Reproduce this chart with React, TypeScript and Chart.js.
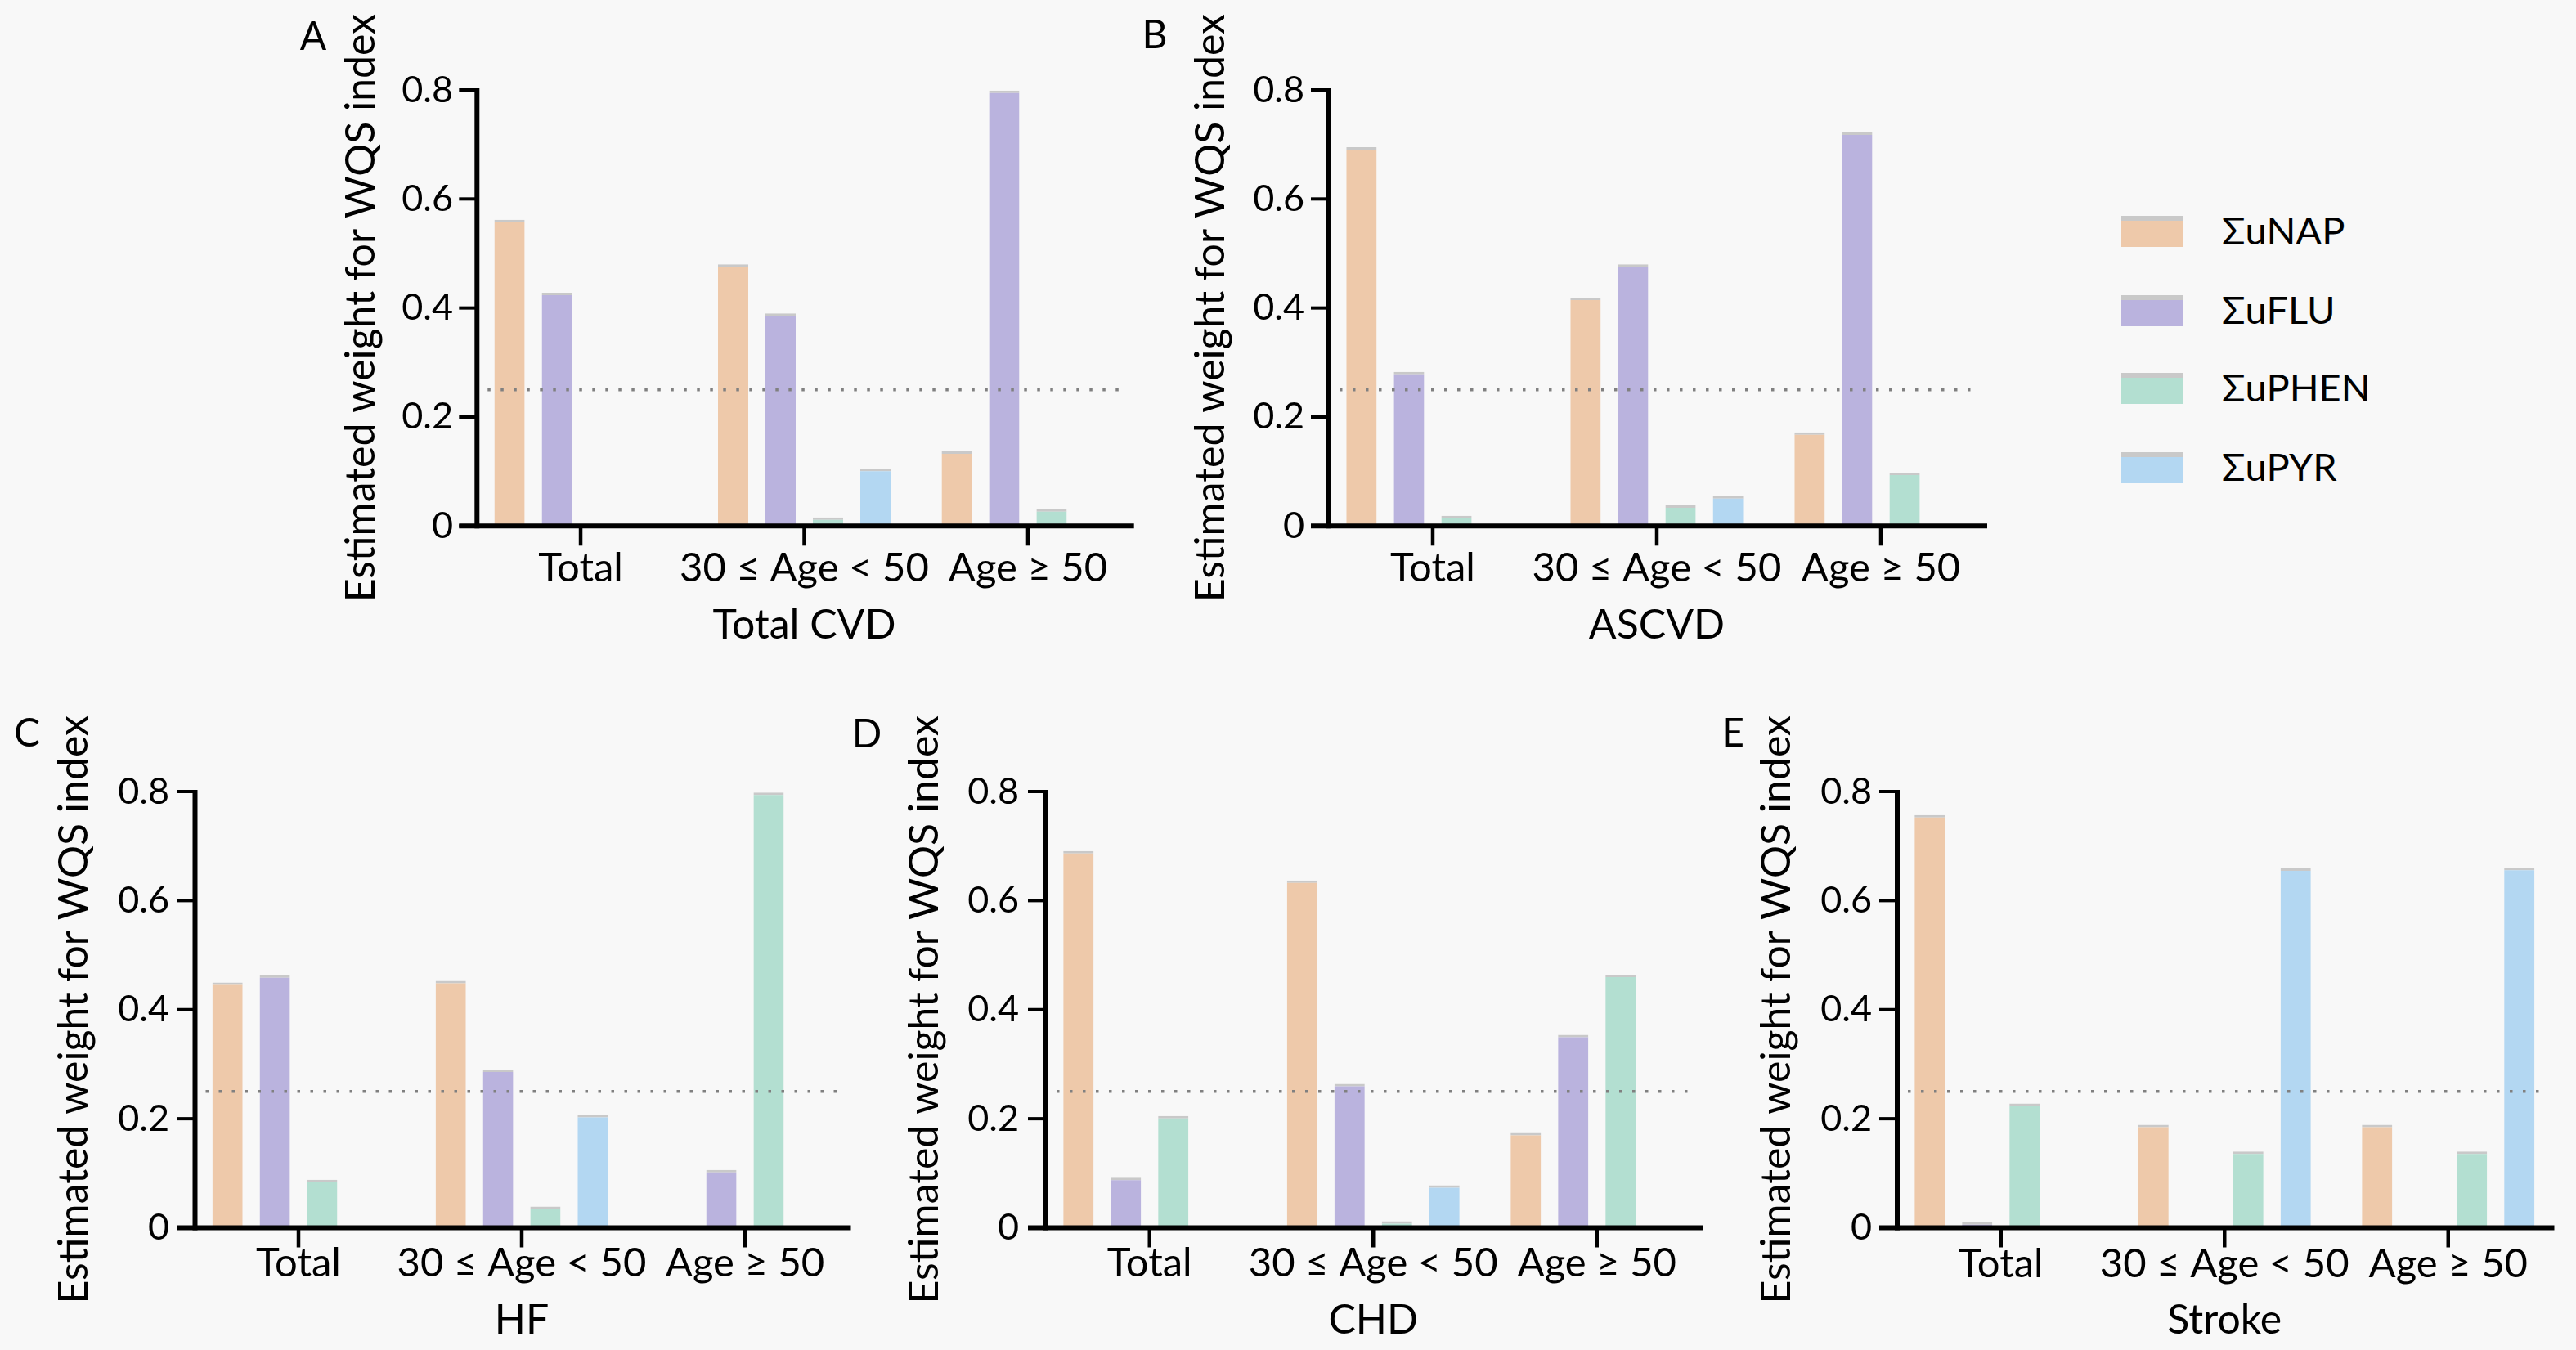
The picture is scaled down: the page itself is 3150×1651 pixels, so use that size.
import React, { useEffect, useRef } from 'react';
import { Chart, registerables } from 'chart.js';

Chart.register(...registerables);

// ---------- data ----------
const categories = ['Total', '30 ≤ Age < 50', 'Age ≥ 50'];
const seriesLabels = ['ΣuNAP', 'ΣuFLU', 'ΣuPHEN', 'ΣuPYR'];
const seriesColors = ['#EEC9AA', '#BAB3DE', '#B3DFD1', '#B3D7F2'];
const yTickValues = [0, 0.2, 0.4, 0.6, 0.8];
const thresholdValue = 0.25;
const yAxisTitle = 'Estimated weight for WQS index';

// A: Total CVD
const cvdNAP = [0.562, 0.48, 0.137];
const cvdFLU = [0.428, 0.39, 0.799];
const cvdPHEN = [0.003, 0.016, 0.031];
const cvdPYR = [0.003, 0.105, 0];

// B: ASCVD
const ascvdNAP = [0.695, 0.419, 0.172];
const ascvdFLU = [0.283, 0.48, 0.722];
const ascvdPHEN = [0.019, 0.038, 0.098];
const ascvdPYR = [0, 0.055, 0];

// C: HF
const hfNAP = [0.45, 0.453, 0.004];
const hfFLU = [0.463, 0.29, 0.106];
const hfPHEN = [0.088, 0.039, 0.798];
const hfPYR = [0, 0.207, 0];

// D: CHD
const chdNAP = [0.691, 0.637, 0.174];
const chdFLU = [0.092, 0.264, 0.354];
const chdPHEN = [0.205, 0.012, 0.464];
const chdPYR = [0, 0.078, 0];

// E: Stroke
const strokeNAP = [0.757, 0.189, 0.189];
const strokeFLU = [0.01, 0, 0];
const strokePHEN = [0.228, 0.14, 0.14];
const strokePYR = [0, 0.659, 0.66];

// ---------- layout ----------
const FONT = "Lato, 'Open Sans', 'Noto Sans', sans-serif";
const TITLE_SIZE = 50;
const XTICK_SIZE = 49;
const YTICK_SIZE = 45;
const HALF_LINE = (TITLE_SIZE * 1.2) / 2;
const HALF_XTICK = (XTICK_SIZE * 1.2) / 2;
const Y_INSET = 10;

type Geo = {
  caLeft: number; caRight: number; caTop: number; caBottom: number;
  yTitleMid: number; yLabelRight: number; xLabelMid: number; xTitleMid: number;
  canvasTop: number;
};

type PanelCfg = {
  letter: string; letterX: number; letterY: number;
  xTitle: string; series: number[][]; geo: Geo;
};

const panels: PanelCfg[] = [
  {
    letter: 'A', letterX: 383, letterY: 44, xTitle: 'Total CVD',
    series: [cvdNAP, cvdFLU, cvdPHEN, cvdPYR],
    geo: { caLeft: 573.3, caRight: 1393.7, caTop: 110, caBottom: 643.3, yTitleMid: 442, yLabelRight: 554, xLabelMid: 695, xTitleMid: 765, canvasTop: 0 },
  },
  {
    letter: 'B', letterX: 1412, letterY: 42, xTitle: 'ASCVD',
    series: [ascvdNAP, ascvdFLU, ascvdPHEN, ascvdPYR],
    geo: { caLeft: 1615, caRight: 2437, caTop: 110, caBottom: 643.3, yTitleMid: 1481, yLabelRight: 1595, xLabelMid: 695, xTitleMid: 765, canvasTop: 0 },
  },
  {
    letter: 'C', letterX: 33, letterY: 896, xTitle: 'HF',
    series: [hfNAP, hfFLU, hfPHEN, hfPYR],
    geo: { caLeft: 228.5, caRight: 1047.5, caTop: 968, caBottom: 1501.5, yTitleMid: 91, yLabelRight: 207, xLabelMid: 1545, xTitleMid: 1615, canvasTop: 840 },
  },
  {
    letter: 'D', letterX: 1060, letterY: 897, xTitle: 'CHD',
    series: [chdNAP, chdFLU, chdPHEN, chdPYR],
    geo: { caLeft: 1269, caRight: 2089.5, caTop: 968, caBottom: 1501.5, yTitleMid: 1131, yLabelRight: 1246, xLabelMid: 1545, xTitleMid: 1615, canvasTop: 840 },
  },
  {
    letter: 'E', letterX: 2119, letterY: 896, xTitle: 'Stroke',
    series: [strokeNAP, strokeFLU, strokePHEN, strokePYR],
    geo: { caLeft: 2310, caRight: 3130.5, caTop: 968, caBottom: 1501.5, yTitleMid: 2173, yLabelRight: 2289, xLabelMid: 1546, xTitleMid: 1615, canvasTop: 840 },
  },
];

const legendY = [283, 380, 475, 572];

function computeBox(g: Geo) {
  const left = Math.round(g.yTitleMid - HALF_LINE);
  const yW = g.caLeft - left;
  const padTop = g.caTop - g.canvasTop;
  const xH = g.xTitleMid + HALF_LINE - g.caBottom;
  const height = Math.round(g.caBottom + xH - g.canvasTop);
  const width = Math.round(g.caRight + 18 - left);
  const padRight = left + width - g.caRight;
  const yTickPad = g.caLeft - g.yLabelRight;
  const xTickPad = g.xLabelMid - g.caBottom - HALF_XTICK;
  return { left, top: g.canvasTop, width, height, yW, xH, padTop, padRight, yTickPad, xTickPad };
}

const gpAxes = {
  id: 'gpAxes',
  afterDatasetsDraw(chart: any) {
    const { ctx, chartArea, scales } = chart;
    const axisX = chartArea.left + Y_INSET;
    const ty = scales.y.getPixelForValue(thresholdValue);
    ctx.save();
    ctx.strokeStyle = '#808080';
    ctx.lineWidth = 3.5;
    ctx.setLineDash([3.5, 12.5]);
    ctx.beginPath();
    ctx.moveTo(axisX + 13, ty);
    ctx.lineTo(chartArea.right - 21, ty);
    ctx.stroke();
    ctx.restore();
  },
  afterDraw(chart: any) {
    const { ctx, chartArea, scales } = chart;
    const axisX = chartArea.left + Y_INSET;
    const y = scales.y;
    const x = scales.x;
    const zeroY = y.getPixelForValue(0);
    const topY = y.getPixelForValue(0.8);
    ctx.save();
    ctx.strokeStyle = '#000';
    ctx.lineCap = 'butt';
    // y axis line
    ctx.lineWidth = 6;
    ctx.beginPath();
    ctx.moveTo(axisX, topY - 2);
    ctx.lineTo(axisX, zeroY + 3);
    ctx.stroke();
    // y tick marks
    ctx.lineWidth = 4;
    y.ticks.forEach((t: any) => {
      const py = y.getPixelForValue(t.value);
      ctx.beginPath();
      ctx.moveTo(axisX - 22, py);
      ctx.lineTo(axisX, py);
      ctx.stroke();
    });
    // x axis line
    ctx.lineWidth = 6;
    ctx.beginPath();
    ctx.moveTo(axisX - 22, zeroY);
    ctx.lineTo(chartArea.right - 7, zeroY);
    ctx.stroke();
    // x tick marks
    ctx.lineWidth = 4.5;
    categories.forEach((_, i) => {
      const px = x.getPixelForValue(i);
      ctx.beginPath();
      ctx.moveTo(px, zeroY);
      ctx.lineTo(px, zeroY + 24);
      ctx.stroke();
    });
    ctx.restore();
  },
};

function Panel({ cfg }: { cfg: PanelCfg }) {
  const ref = useRef<HTMLCanvasElement>(null);
  const box = computeBox(cfg.geo);
  useEffect(() => {
    if (!ref.current) return;
    const chart = new Chart(ref.current, {
      type: 'bar',
      data: {
        labels: categories,
        datasets: cfg.series.map((vals, i) => ({
          label: seriesLabels[i],
          data: vals,
          backgroundColor: seriesColors[i],
          borderColor: '#C9C9C9',
          borderWidth: { top: 3, left: 0, right: 0, bottom: 0 },
          borderSkipped: 'bottom',
          categoryPercentage: 0.848,
          barPercentage: 0.64,
        })),
      },
      options: {
        responsive: false,
        animation: false,
        devicePixelRatio: 1,
        layout: { padding: { left: 0, top: box.padTop, right: box.padRight, bottom: 0 } },
        plugins: { legend: { display: false }, tooltip: { enabled: false } },
        scales: {
          x: {
            type: 'category',
            offset: true,
            grid: { display: false, drawTicks: false },
            border: { display: false },
            ticks: {
              font: { family: FONT, size: XTICK_SIZE, lineHeight: 1.2 },
              color: '#000',
              padding: box.xTickPad,
              maxRotation: 0,
              minRotation: 0,
              autoSkip: false,
            },
            title: {
              display: true,
              text: cfg.xTitle,
              color: '#000',
              padding: 0,
              font: { family: FONT, size: TITLE_SIZE, lineHeight: 1.2 },
            },
            afterFit: (s: any) => { s.height = box.xH; },
          },
          y: {
            min: 0,
            max: 0.8,
            grid: { display: false, drawTicks: false },
            border: { display: false },
            ticks: {
              stepSize: 0.2,
              font: { family: FONT, size: YTICK_SIZE, lineHeight: 1.2 },
              color: '#000',
              padding: box.yTickPad,
              callback: (v: any) => (Number(v) === 0 ? '0' : Number(v).toFixed(1)),
            },
            afterBuildTicks: (s: any) => { s.ticks = yTickValues.map((v) => ({ value: v })); },
            title: {
              display: true,
              text: yAxisTitle,
              color: '#000',
              padding: 0,
              font: { family: FONT, size: TITLE_SIZE, lineHeight: 1.2 },
            },
            afterFit: (s: any) => { s.width = box.yW; },
          },
        },
      } as any,
      plugins: [gpAxes],
    });
    return () => chart.destroy();
  }, []);
  return (
    <canvas
      ref={ref}
      width={box.width}
      height={box.height}
      style={{ position: 'absolute', left: box.left, top: box.top, width: box.width, height: box.height }}
    />
  );
}

export default function App() {
  return (
    <div
      style={{
        position: 'absolute', left: 0, top: 0, width: 3150, height: 1651,
        background: '#F8F8F8', overflow: 'hidden', fontFamily: FONT, color: '#000',
      }}
    >
      {panels.map((p) => (
        <Panel key={p.letter} cfg={p} />
      ))}
      {panels.map((p) => (
        <div
          key={'l' + p.letter}
          style={{
            position: 'absolute', left: p.letterX - 30, top: p.letterY - 25, width: 60,
            textAlign: 'center', fontSize: 48, lineHeight: '48px',
          }}
        >
          {p.letter}
        </div>
      ))}
      {seriesLabels.map((s, i) => (
        <React.Fragment key={s}>
          <div
            style={{
              position: 'absolute', left: 2594, top: legendY[i] - 19, width: 76, height: 38,
              boxSizing: 'border-box', background: seriesColors[i], borderTop: '6px solid #C9C9C9',
            }}
          />
          <div
            style={{
              position: 'absolute', left: 2717, top: legendY[i] - 25, fontSize: 47,
              lineHeight: '47px', whiteSpace: 'nowrap',
            }}
          >
            {s}
          </div>
        </React.Fragment>
      ))}
    </div>
  );
}
